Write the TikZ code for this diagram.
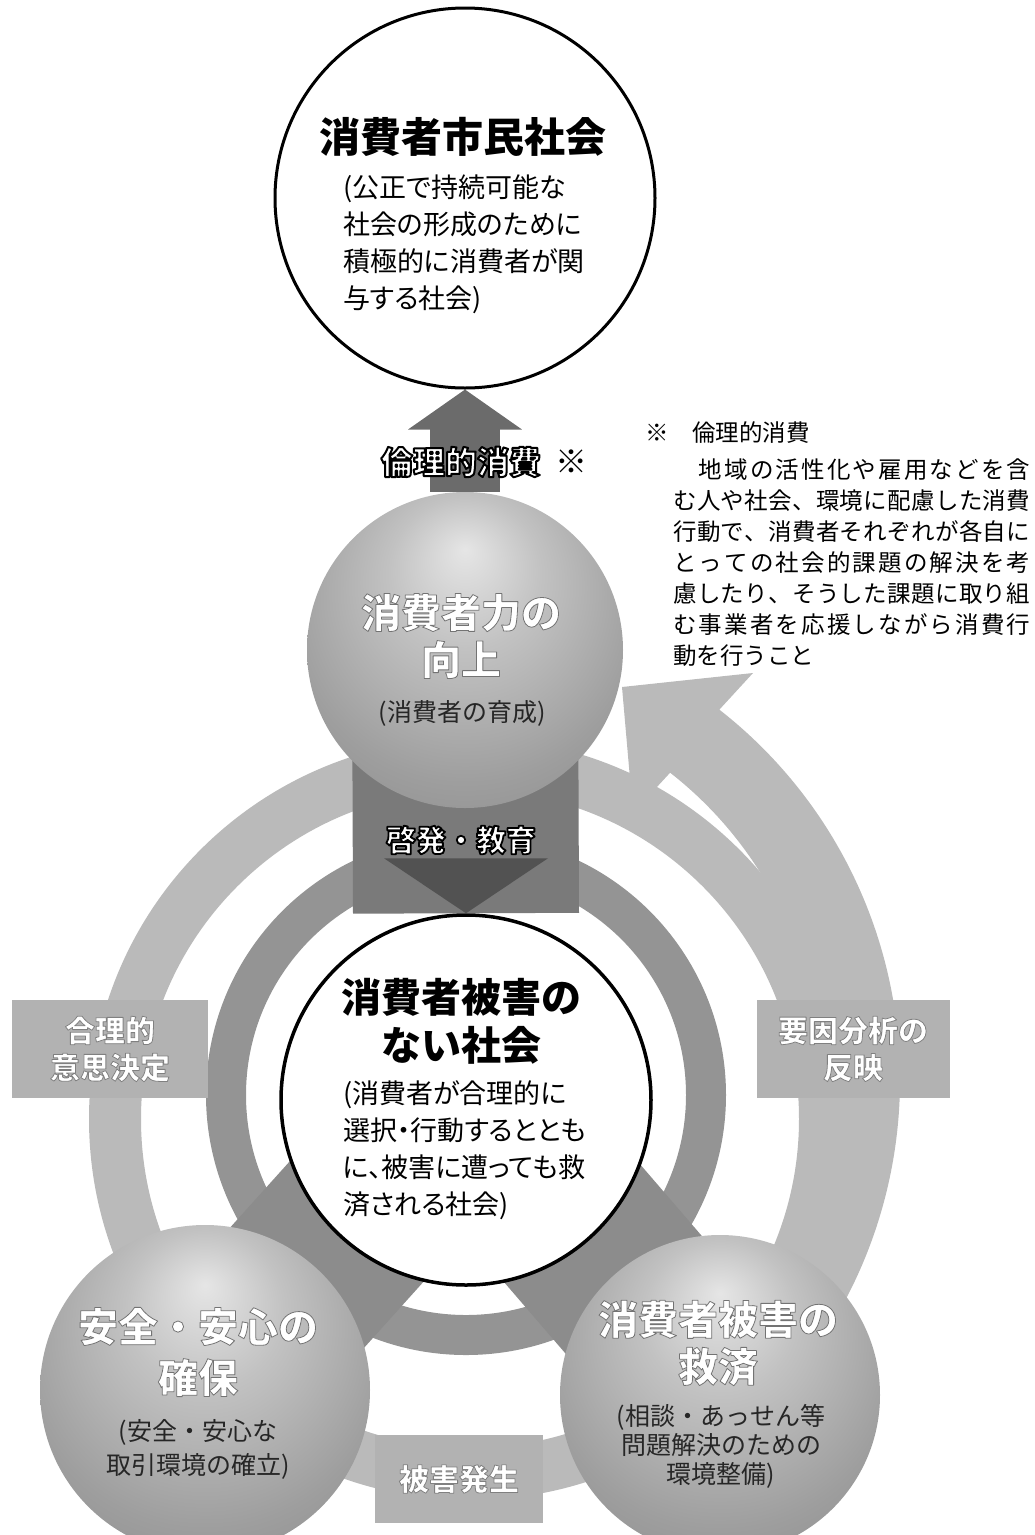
\documentclass[tikz,border=0pt]{standalone}
\usepackage{fontspec}
\setmainfont{Noto Sans CJK JP}
\newfontfamily\propjp{Noto Sans CJK JP}[RawFeature=+palt]
\usetikzlibrary{arrows.meta,calc}

\pgfdeclarelayer{back}
\pgfsetlayers{back,main}
\pgfdeclareradialshading{orbshade}{\pgfpoint{0bp}{16bp}}{%
  color(0bp)=(black!10); color(12bp)=(black!24); color(28bp)=(black!38);
  color(40bp)=(black!46); color(50bp)=(black!52)}

\colorlet{RingGray}{black!27}
\colorlet{InnerGray}{black!42}
\colorlet{BondGray}{black!45}
\colorlet{LiftGray}{black!58}

% outlined text: fill in the current colour, stroke in grey level #2
\newcommand{\rim}[3][1.6]{\special{pdf:literal direct #2 G #1 w 1 j 2 Tr}#3\special{pdf:literal direct 0 Tr}}
% one justified line of the note
\newcommand{\jline}[1]{\hbox to 357pt{\jlnext#1\relax}}
\def\jlnext#1{#1\futurelet\jlpeek\jlcheck}
\def\jlcheck{\ifx\jlpeek\relax\expandafter\jlstop\else\hfil\expandafter\jlnext\fi}
\def\jlstop#1{}

\begin{document}
\begin{tikzpicture}[x=1pt,y=-1pt,
 circ/.style={circle,draw=black,line width=3pt,fill=white,inner sep=0pt},
 orb/.style={circle,shade,shading=orbshade,inner sep=0pt},
 ttl/.style={font=\bfseries\fontsize{40}{48}\selectfont,align=center,inner sep=0pt},
 sub/.style={font=\propjp\fontsize{27}{37}\selectfont,align=left,inner sep=0pt,anchor=north west},
 orbttl/.style={ttl,text=white},
 orbsub/.style={align=center,inner sep=0pt,text=black!85},
 tag/.style={rectangle,fill=black!30,inner sep=0pt,text=white,align=center,
   font=\bfseries\fontsize{30}{37}\selectfont},
 ring/.style={draw=RingGray,line width=52pt},
 inring/.style={draw=InnerGray,line width=40pt},
 bond/.style={draw=BondGray,line width=180pt},
 edublk/.style={draw=black!52,line width=226pt},
 lift/.style={draw=LiftGray,line width=70pt,-{Triangle[length=40pt,width=112pt]}},
 note/.style={font=\fontsize{23.5}{31}\selectfont,inner sep=0pt}
]
\useasboundingbox (0,0) rectangle (1035,1535);

% circles and balls
\node[circ,minimum size=380pt] (civ) at (465,198) {};
\node[orb,minimum size=316pt] (ability) at (465,650) {};
\node[circ,minimum size=370pt,line width=3.5pt] (cent) at (466,1100) {};
\node[orb,minimum size=330pt] (safe) at (205,1390) {};
\node[orb,minimum size=320pt] (relief) at (720,1395) {};

% texts in circles
\node[ttl,font=\bfseries\fontsize{41}{46}\selectfont] (civT) at (463,137) {消費者市民社会};
\node[sub] (civS) at (343,175) {(公正で持続可能な\\社会の形成のために\\積極的に消費者が関\\与する社会)};
\node[orbttl,font=\bfseries\fontsize{40}{47}\selectfont] (abilityT) at (461,636)
  {\rim[0.8]{0.45}{消費者力の}\\\rim[0.8]{0.45}{向上}};
\node[orbsub,font=\fontsize{25}{30}\selectfont] (abilityS) at (462,713) {(消費者の育成)};
\node[ttl] (centT) at (461,1021) {消費者被害の\\ない社会};
\node[sub] (centS) at (343,1080) {(消費者が合理的に\\選択・行動するととも\\に、被害に遭っても救\\済される社会)};
\node[orbttl,font=\bfseries\fontsize{40}{51}\selectfont] (safeT) at (198,1352)
  {\rim[0.8]{0.45}{安全・安心の}\\\rim[0.8]{0.45}{確保}};
\node[orbsub,font=\fontsize{25}{34}\selectfont] (safeS) at (198,1449) {(安全・安心な\\取引環境の確立)};
\node[orbttl,font=\bfseries\fontsize{40}{47}\selectfont] (reliefT) at (718,1343)
  {\rim[0.8]{0.45}{消費者被害の}\\\rim[0.8]{0.45}{救済}};
\node[orbsub,font=\fontsize{25}{29}\selectfont] (reliefS) at (721,1446) {(相談・あっせん等\\問題解決のための\\環境整備)};

% boxes on the ring
\node[tag,minimum width=196pt,minimum height=98pt] (choice) at (110,1049)
  {\rim[0.8]{0.5}{合理的}\\\rim[0.8]{0.5}{意思決定}};
\node[tag,minimum width=193pt,minimum height=98pt] (cause) at (853,1049)
  {\rim[0.8]{0.5}{要因分析の}\\\rim[0.8]{0.5}{反映}};
\node[tag,minimum width=168pt,minimum height=88pt] (harm) at (459,1479)
  {\rim[0.8]{0.5}{被害発生}};

% arrow labels
\node[font=\bfseries\fontsize{32}{36}\selectfont,text=white,inner sep=0pt] (ethic) at (461,462)
  {\rim[2]{0}{倫理的消費}};
\node[font=\fontsize{32}{36}\selectfont,inner sep=0pt] (mark) at (571,462) {※};
\node[font=\bfseries\fontsize{30}{36}\selectfont,text=white,inner sep=0pt] (edu) at (461,840)
  {\rim[1.8]{0}{啓発・教育}};

% note
\node[note,anchor=west] (noteH) at (645,433) {※　倫理的消費};
\node[note,anchor=north west,align=left] (noteB) at (673,459)
  {\jline{　地域の活性化や雇用などを含}\\
   \jline{む人や社会、環境に配慮した消費}\\
   \jline{行動で、消費者それぞれが各自に}\\
   \jline{とっての社会的課題の解決を考}\\
   \jline{慮したり、そうした課題に取り組}\\
   \jline{む事業者を応援しながら消費行}\\
   動を行うこと};

\begin{pgfonlayer}{back}
 \draw[ring] (470,1119) circle[radius=355];
 \coordinate (bigC) at (430,1080);
 \fill[RingGray] ($(bigC)+(40:470)$) arc[start angle=40,end angle=-52,radius=470]
   -- (753,673) -- (622,687) -- (633,813)
   -- ($(bigC)+(-52:390)$) arc[start angle=-52,end angle=40,radius=390] -- cycle;
 \draw[inring] (466,1095) circle[radius=240];
 \draw[bond] (cent.center) -- (safe.center);
 \draw[bond] (cent.center) -- (relief.center);
 \draw[edublk] (ability.center) -- (cent.north);
 \fill[black!68] (cent.north) -- ([xshift=-82pt,yshift=55pt]cent.north)
   -- ([xshift=82pt,yshift=55pt]cent.north) -- cycle;
 \draw[lift] (ability.north) -- (civ.south);
\end{pgfonlayer}
\end{tikzpicture}
\end{document}
